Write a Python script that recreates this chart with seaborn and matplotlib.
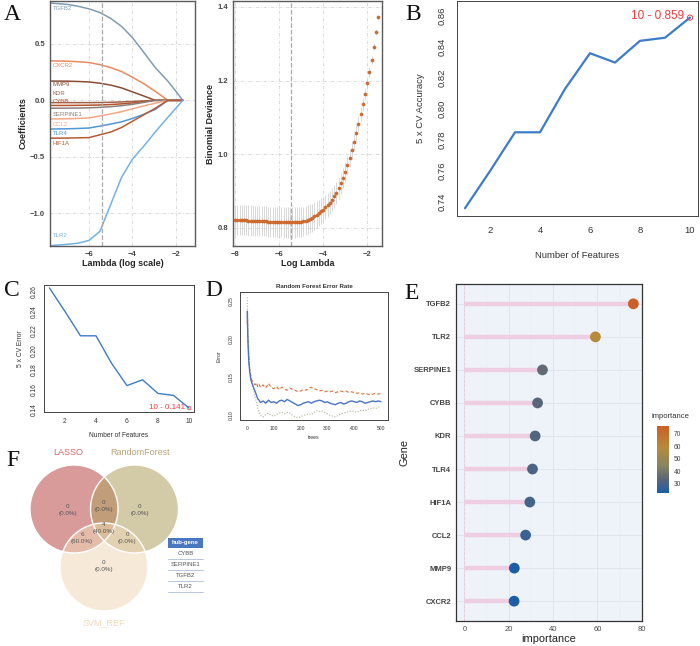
import numpy as np
import pandas as pd
import matplotlib
matplotlib.use("Agg")
import matplotlib.pyplot as plt
from matplotlib.colors import LinearSegmentedColormap, Normalize
from matplotlib.cm import ScalarMappable
from matplotlib.patches import Circle, Rectangle
import seaborn as sns

# ---------------- data ----------------
# A left: lasso coefficient paths (log lambda grid)
path_loglambda = [-7.8, -7.0, -6.5, -6.0, -5.5, -5.0, -4.5, -4.0, -3.5, -2.95, -2.37, -2.0, -1.68]
coef_paths = {
    "TGFB2":    [0.862, 0.850, 0.833, 0.810, 0.778, 0.725, 0.655, 0.555, 0.430, 0.290, 0.170, 0.080, 0.0],
    "CXCR2":    [0.350, 0.347, 0.342, 0.335, 0.316, 0.290, 0.255, 0.205, 0.150, 0.080, 0.0, 0.0, 0.0],
    "MMP9":     [0.171, 0.170, 0.167, 0.163, 0.152, 0.135, 0.110, 0.075, 0.040, 0.0, 0.0, 0.0, 0.0],
    "KDR":      [-0.020, -0.020, -0.020, -0.020, -0.019, -0.017, -0.014, -0.010, -0.005, 0.0, 0.0, 0.0, 0.0],
    "CYBB":     [-0.045, -0.045, -0.044, -0.043, -0.041, -0.037, -0.031, -0.023, -0.012, 0.0, 0.0, 0.0, 0.0],
    "SERPINE1": [-0.070, -0.069, -0.068, -0.066, -0.062, -0.056, -0.047, -0.035, -0.019, 0.0, 0.0, 0.0, 0.0],
    "CCL2":     [-0.165, -0.163, -0.160, -0.156, -0.138, -0.120, -0.100, -0.075, -0.050, -0.025, 0.0, 0.0, 0.0],
    "TLR4":     [-0.254, -0.252, -0.249, -0.245, -0.228, -0.210, -0.190, -0.160, -0.125, -0.080, 0.0, 0.0, 0.0],
    "HIF1A":    [-0.335, -0.334, -0.332, -0.330, -0.305, -0.280, -0.240, -0.185, -0.130, -0.070, 0.0, 0.0, 0.0],
    "TLR2":     [-1.287, -1.275, -1.265, -1.240, -1.160, -0.920, -0.680, -0.520, -0.410, -0.280, -0.150, -0.070, 0.0],
}
gene_colors = {
    "TGFB2": "#7f9db5", "CXCR2": "#ea8a5e", "MMP9": "#8a4b33", "KDR": "#a0634a",
    "CYBB": "#b5532d", "SERPINE1": "#8c8078", "CCL2": "#f5a886", "TLR4": "#4f97d6",
    "HIF1A": "#b65a36", "TLR2": "#72b3e6",
}
label_y = [0.81, 0.306, 0.14, 0.06, -0.01, -0.125, -0.214, -0.29, -0.38, -1.2]
lambda_min = -5.42

# A right: cross-validated binomial deviance
dev_loglambda = [-8.0, -7.9, -7.8, -7.7, -7.6, -7.5, -7.4, -7.3, -7.2, -7.1, -7.0,
                 -6.9, -6.8, -6.7, -6.6, -6.5, -6.4, -6.3, -6.2, -6.1, -6.0,
                 -5.9, -5.8, -5.7, -5.6, -5.5, -5.4, -5.3, -5.2, -5.1, -5.0,
                 -4.9, -4.8, -4.7, -4.6, -4.5, -4.4, -4.3, -4.2, -4.1, -4.0,
                 -3.9, -3.8, -3.7, -3.6, -3.5, -3.4, -3.3, -3.2, -3.1, -3.0,
                 -2.9, -2.8, -2.7, -2.6, -2.5, -2.4, -2.3, -2.2, -2.1, -2.0,
                 -1.9, -1.8, -1.7, -1.6, -1.5]
dev_mean = [0.822, 0.822, 0.822, 0.821, 0.821, 0.821, 0.820, 0.820, 0.820, 0.819, 0.819,
            0.819, 0.818, 0.818, 0.818, 0.817, 0.817, 0.817, 0.816, 0.816, 0.816,
            0.816, 0.815, 0.815, 0.815, 0.815, 0.815, 0.815, 0.816, 0.816, 0.817,
            0.818, 0.820, 0.822, 0.825, 0.828, 0.832, 0.836, 0.840, 0.845, 0.850,
            0.856, 0.862, 0.869, 0.877, 0.886, 0.896, 0.908, 0.921, 0.936, 0.952,
            0.970, 0.990, 1.011, 1.034, 1.058, 1.083, 1.109, 1.136, 1.164, 1.193,
            1.223, 1.256, 1.292, 1.331, 1.372]
dev_se = ([0.041] * 31 +
          [0.040, 0.040, 0.039, 0.039, 0.038, 0.038, 0.037, 0.036, 0.035, 0.034,
           0.033, 0.033, 0.032, 0.031, 0.031, 0.030, 0.029, 0.028, 0.027, 0.026,
           0.025, 0.024, 0.023, 0.022, 0.021, 0.020, 0.019, 0.018, 0.017, 0.015,
           0.014, 0.012, 0.010, 0.008, 0.006])

# B / C: SVM-RFE
n_features = [1, 2, 3, 4, 5, 6, 7, 8, 9, 10]
cv_accuracy = [0.736, 0.760, 0.785, 0.785, 0.813, 0.836, 0.830, 0.844, 0.846, 0.859]
cv_error = [0.264, 0.240, 0.215, 0.215, 0.187, 0.164, 0.170, 0.156, 0.154, 0.141]

# D: random forest error rate
rf_trees = [1, 2, 3, 5, 7, 10, 13, 16, 20, 25, 30, 35, 40, 45, 50, 60, 70, 80, 90, 100,
            110, 120, 130, 140, 150, 160, 170, 180, 190, 200, 210, 220, 230, 240, 250,
            260, 270, 280, 290, 300, 310, 320, 330, 340, 350, 360, 370, 380, 390, 400,
            410, 420, 430, 440, 450, 460, 470, 480, 490, 500]
rf_oob = [0.237, 0.220, 0.205, 0.185, 0.170, 0.158, 0.150, 0.145, 0.141, 0.136, 0.132, 0.127, 0.122, 0.120, 0.117,
          0.119, 0.116, 0.120, 0.117, 0.118, 0.116, 0.119, 0.120, 0.118, 0.121, 0.119, 0.117, 0.115, 0.113, 0.114,
          0.116, 0.117, 0.118, 0.116, 0.118, 0.119, 0.120, 0.119, 0.117, 0.118, 0.116, 0.115, 0.114, 0.116, 0.117,
          0.115, 0.116, 0.118, 0.119, 0.118, 0.117, 0.119, 0.118, 0.116, 0.117, 0.118, 0.119, 0.118, 0.119, 0.118]
rf_class1 = [0.220, 0.235, 0.200, 0.190, 0.175, 0.160, 0.155, 0.148, 0.145, 0.142, 0.140, 0.143, 0.138, 0.141, 0.137,
             0.140, 0.136, 0.142, 0.137, 0.135, 0.138, 0.134, 0.137, 0.135, 0.133, 0.136, 0.134, 0.133, 0.131, 0.132,
             0.134, 0.133, 0.136, 0.137, 0.135, 0.134, 0.132, 0.133, 0.131, 0.132, 0.131, 0.132, 0.130, 0.131, 0.132,
             0.131, 0.132, 0.130, 0.131, 0.130, 0.129, 0.130, 0.128, 0.129, 0.128, 0.127, 0.128, 0.129, 0.128, 0.129]
rf_class2 = [0.255, 0.240, 0.220, 0.200, 0.180, 0.165, 0.155, 0.150, 0.140, 0.132, 0.125, 0.118, 0.110, 0.105, 0.100,
             0.098, 0.101, 0.103, 0.100, 0.099, 0.101, 0.103, 0.104, 0.102, 0.104, 0.103, 0.100, 0.098, 0.097, 0.098,
             0.100, 0.101, 0.102, 0.101, 0.104, 0.106, 0.105, 0.106, 0.104, 0.102, 0.100, 0.099, 0.098, 0.100, 0.102,
             0.103, 0.104, 0.105, 0.106, 0.105, 0.104, 0.106, 0.107, 0.106, 0.108, 0.109, 0.110, 0.109, 0.111, 0.111]

# E: random forest importance
imp_genes = ["TGFB2", "TLR2", "SERPINE1", "CYBB", "KDR", "TLR4", "HIF1A", "CCL2", "MMP9", "CXCR2"]
imp_values = [76.2, 59.1, 35.2, 33.0, 31.9, 30.7, 29.5, 27.6, 22.5, 22.4]

# F: venn counts
venn_labels = ["LASSO", "RandomForest", "SVM_REF"]
venn_regions = {"L": (0, "0.0%"), "R": (0, "0.0%"), "S": (0, "0.0%"), "LR": (0, "0.0%"),
                "LS": (6, "60.0%"), "RS": (0, "0.0%"), "LRS": (4, "40.0%")}
hub_genes = ["CYBB", "SERPINE1", "TGFB2", "TLR2"]

# ---------------- figure ----------------
sns.set_theme(style="white")
plt.rcParams["font.family"] = ["Liberation Sans", "DejaVu Sans"]
W, H = 700, 646
fig = plt.figure(figsize=(7.0, 6.46), dpi=100)


def px(l, t, r, b):
    return [l / W, 1 - b / H, (r - l) / W, (b - t) / H]


def gg_style(ax):
    for s in ax.spines.values():
        s.set_color("#5a5a5a")
        s.set_linewidth(1.0)
    ax.tick_params(direction="out", length=2, width=0.6, colors="#333333", labelsize=5.5, pad=1.5)
    plt.setp(ax.get_xticklabels() + ax.get_yticklabels(), fontweight="bold", color="#444444")
    ax.grid(True, color="#d6d6d6", lw=0.6, ls=(0, (4, 2, 1, 2)))


def base_r(ax, fs, pad=2):
    for s in ax.spines.values():
        s.set_color("#444444")
        s.set_linewidth(0.7)
    ax.tick_params(direction="out", length=2.5, width=0.6, colors="#333333", labelsize=fs, pad=pad)
    ax.grid(False)
    plt.setp(ax.get_yticklabels(), rotation=90, va="center")


# A left
axA = fig.add_axes(px(50, 1, 195, 246))
rows = []
for g, vals in coef_paths.items():
    for x, v in zip(path_loglambda, vals):
        rows.append({"gene": g, "loglambda": x, "coef": v})
df_path = pd.DataFrame(rows)
sns.lineplot(data=df_path, x="loglambda", y="coef", hue="gene", palette=gene_colors,
             legend=False, sort=False, estimator=None, lw=1.1, ax=axA)
axA.axvline(lambda_min, color="#aaaaaa", ls="--", lw=0.9)
for g, ly in zip(coef_paths, label_y):
    axA.text(-7.68, ly, g, color=gene_colors[g], fontsize=4.3, va="center", ha="left")
axA.set_xlim(-7.8, -1.12)
axA.set_ylim(-1.29, 0.88)
axA.set_xticks([-6, -4, -2])
axA.set_yticks([-1.0, -0.5, 0.0, 0.5])
gg_style(axA)
axA.set_xlabel("Lambda (log scale)", fontsize=6.5, fontweight="bold", labelpad=1)
axA.set_ylabel("Coefficients", fontsize=6.5, fontweight="bold", labelpad=2)

# A right
axA2 = fig.add_axes(px(233, 1, 382, 246))
axA2.errorbar(dev_loglambda, dev_mean, yerr=dev_se, fmt="none", ecolor="#d2d2d2", elinewidth=0.6)
sns.scatterplot(x=dev_loglambda, y=dev_mean, color="#cd6a2e", s=7, linewidth=0, ax=axA2, zorder=3)
axA2.axvline(lambda_min - 0.03, color="#aaaaaa", ls="--", lw=0.9)
axA2.set_xlim(-8.1, -1.33)
axA2.set_ylim(0.751, 1.416)
axA2.set_xticks([-8, -6, -4, -2])
axA2.set_yticks([0.8, 1.0, 1.2, 1.4])
gg_style(axA2)
axA2.set_xlabel("Log Lambda", fontsize=6.5, fontweight="bold", labelpad=1)
axA2.set_ylabel("Binomial Deviance", fontsize=6.5, fontweight="bold", labelpad=2)

# B
axB = fig.add_axes(px(457, 1, 698, 216))
sns.lineplot(x=n_features, y=cv_accuracy, color="#3d7cc9", lw=1.6, ax=axB)
axB.scatter([n_features[-1]], [cv_accuracy[-1]], facecolors="none", edgecolors="#ee3b3b", s=14, lw=0.7, zorder=4)
axB.annotate(f"{n_features[-1]} - {cv_accuracy[-1]:.3f}", (n_features[-1], cv_accuracy[-1]),
             xytext=(-4, 1), textcoords="offset points", ha="right", va="center",
             color="#ee3b3b", fontsize=8.5)
axB.set_xlim(0.68, 10.32)
axB.set_ylim(0.731, 0.8697)
axB.set_xticks([2, 4, 6, 8, 10])
axB.set_yticks([0.74, 0.76, 0.78, 0.80, 0.82, 0.84, 0.86])
base_r(axB, 6.8, pad=5)
axB.set_xlabel("Number of Features", fontsize=6.8, labelpad=11, color="#333333")
axB.set_ylabel("5 x CV Accuracy", fontsize=6.8, labelpad=9, color="#333333")

# C
axC = fig.add_axes(px(44, 285, 194, 412))
sns.lineplot(x=n_features, y=cv_error, color="#3d7cc9", lw=1.0, ax=axC)
axC.scatter([n_features[-1]], [cv_error[-1]], facecolors="none", edgecolors="#ee3b3b", s=7, lw=0.5, zorder=4)
axC.annotate(f"{n_features[-1]} - {cv_error[-1]:.3f}", (n_features[-1], cv_error[-1]),
             xytext=(-3, 0.5), textcoords="offset points", ha="right", va="center",
             color="#ee3b3b", fontsize=5.8)
axC.set_xlim(0.65, 10.32)
axC.set_ylim(0.137, 0.267)
axC.set_xticks([2, 4, 6, 8, 10])
axC.set_yticks([0.14, 0.16, 0.18, 0.20, 0.22, 0.24, 0.26])
base_r(axC, 4.8)
axC.set_xlabel("Number of Features", fontsize=4.8, labelpad=5, color="#333333")
axC.set_ylabel("5 x CV Error", fontsize=4.8, labelpad=5, color="#333333")

# D
axD = fig.add_axes(px(240, 292, 388, 420))
sns.lineplot(x=rf_trees, y=rf_class2, color="#a9b59a", lw=0.8, linestyle=(0, (1, 1.5)), ax=axD)
sns.lineplot(x=rf_trees, y=rf_class1, color="#e0703a", lw=0.8, linestyle=(0, (3, 2)), ax=axD)
sns.lineplot(x=rf_trees, y=rf_oob, color="#4a74c4", lw=1.0, ax=axD)
axD.set_xlim(-26, 526)
axD.set_ylim(0.094, 0.262)
axD.set_xticks([0, 100, 200, 300, 400, 500])
axD.set_yticks([0.10, 0.15, 0.20, 0.25])
base_r(axD, 3.6)
axD.set_title("Random Forest Error Rate", fontsize=4.4, fontweight="bold", pad=3, color="#333333")
axD.set_xlabel("trees", fontsize=3.8, labelpad=3, color="#333333")
axD.set_ylabel("Error", fontsize=3.8, labelpad=5, color="#333333")

# E
axE = fig.add_axes(px(456, 284, 642, 621))
axE.set_facecolor("#eef3fa")
genes_rev = imp_genes[::-1]
vals_rev = imp_values[::-1]
imp_cmap = LinearSegmentedColormap.from_list(
    "imp", [(0.0, "#1c5ea6"), (0.2, "#5a6579"), (0.42, "#8a8560"), (0.68, "#b78a3a"), (1.0, "#cb5f25")])
imp_norm = Normalize(min(imp_values), max(imp_values))
axE.hlines(y=genes_rev, xmin=0, xmax=vals_rev, color="#efcde2", lw=3.2, zorder=2)
axE.axvline(0, color="#f0c4da", ls="--", lw=0.6, zorder=1)
sns.scatterplot(x=vals_rev, y=genes_rev, hue=vals_rev, palette=imp_cmap, hue_norm=imp_norm,
                s=60, linewidth=0, legend=False, ax=axE, zorder=3)
axE.set_xlim(-3.8, 80.1)
axE.set_ylim(-0.6, 9.6)
axE.set_xticks([0, 20, 40, 60, 80])
axE.set_xticks([10, 30, 50, 70], minor=True)
axE.grid(True, which="major", color="#dde3ec", lw=0.6)
axE.grid(True, which="minor", axis="x", color="#e6ebf3", lw=0.35)
axE.set_axisbelow(True)
for s in axE.spines.values():
    s.set_color("#333333")
    s.set_linewidth(0.9)
axE.tick_params(which="major", direction="out", length=2, width=0.6, colors="#333333",
                labelsize=5.5, labelcolor="#4d4d4d", pad=1.5)
axE.tick_params(which="minor", length=0)
plt.setp(axE.get_yticklabels(), fontweight="bold", color="#444444")
axE.set_xlabel("importance", fontsize=7.9, labelpad=1, color="#222222")
axE.set_ylabel("Gene", fontsize=7.9, labelpad=3, color="#222222")

caxE = fig.add_axes(px(657, 426, 669, 493))
cb = fig.colorbar(ScalarMappable(norm=imp_norm, cmap=imp_cmap), cax=caxE)
cb.set_ticks([30, 40, 50, 60, 70])
cb.outline.set_visible(False)
caxE.tick_params(length=2, width=0.5, colors="white", labelsize=4.8, labelcolor="#444444", pad=1.5)
fig.text(652 / W, 1 - 417 / H, "importance", fontsize=5.5, color="#333333", va="center", ha="left")

# F: venn
axF = fig.add_axes([0, 0, 250 / W, 206 / H])
axF.set_xlim(0, 250)
axF.set_ylim(646, 440)
axF.axis("off")
venn_centers = [(74, 509), (134.5, 509), (104, 567)]
venn_colors = ["#b94a48", "#b0a060", "#f0d8b8"]
venn_text_colors = ["#d06a6a", "#bba578", "#f5d6b6"]
for (cx, cy), c in zip(venn_centers, venn_colors):
    axF.add_patch(Circle((cx, cy), 44, fc=c, alpha=0.55, ec="none"))
for (cx, cy) in venn_centers:
    axF.add_patch(Circle((cx, cy), 44, fill=False, ec="white", lw=1.0))
axF.text(68, 453, venn_labels[0], color=venn_text_colors[0], fontsize=6.5, ha="center", va="center")
axF.text(140, 453, venn_labels[1], color=venn_text_colors[1], fontsize=6.5, ha="center", va="center")
axF.text(104, 623, venn_labels[2], color=venn_text_colors[2], fontsize=6.5, ha="center", va="center")
region_pos = {"L": (68, 510), "R": (140, 510), "LR": (104, 506), "LRS": (104, 528),
              "LS": (82, 538), "RS": (127, 538), "S": (104, 566)}
for key, (xx, yy) in region_pos.items():
    n, pct = venn_regions[key]
    axF.text(xx, yy, f"{n}\n({pct})", fontsize=4.5, color="#555555", ha="center", va="center",
             linespacing=1.3)
axF.add_patch(Rectangle((168, 538), 35, 10, fc="#4a78c0", ec="none"))
axF.text(185.5, 543, "hub-gene", color="white", fontsize=4.3, fontweight="bold", ha="center", va="center")
for i, g in enumerate(hub_genes):
    yy = 554 + i * 11
    axF.text(185.5, yy, g, color="#555555", fontsize=4.3, ha="center", va="center")
    axF.plot([168, 203], [yy + 5.5, yy + 5.5], color="#9fb1d6", lw=0.5)

# panel letters
for letter, (lx, ly) in {"A": (12, 15), "B": (413, 14), "C": (12, 291), "D": (214, 291),
                         "E": (412, 294), "F": (13, 461)}.items():
    fig.text(lx / W, 1 - ly / H, letter, family=["Liberation Serif", "DejaVu Serif"],
             fontsize=17, ha="center", va="center", color="#111111")

fig.savefig("out.png", dpi=100)
